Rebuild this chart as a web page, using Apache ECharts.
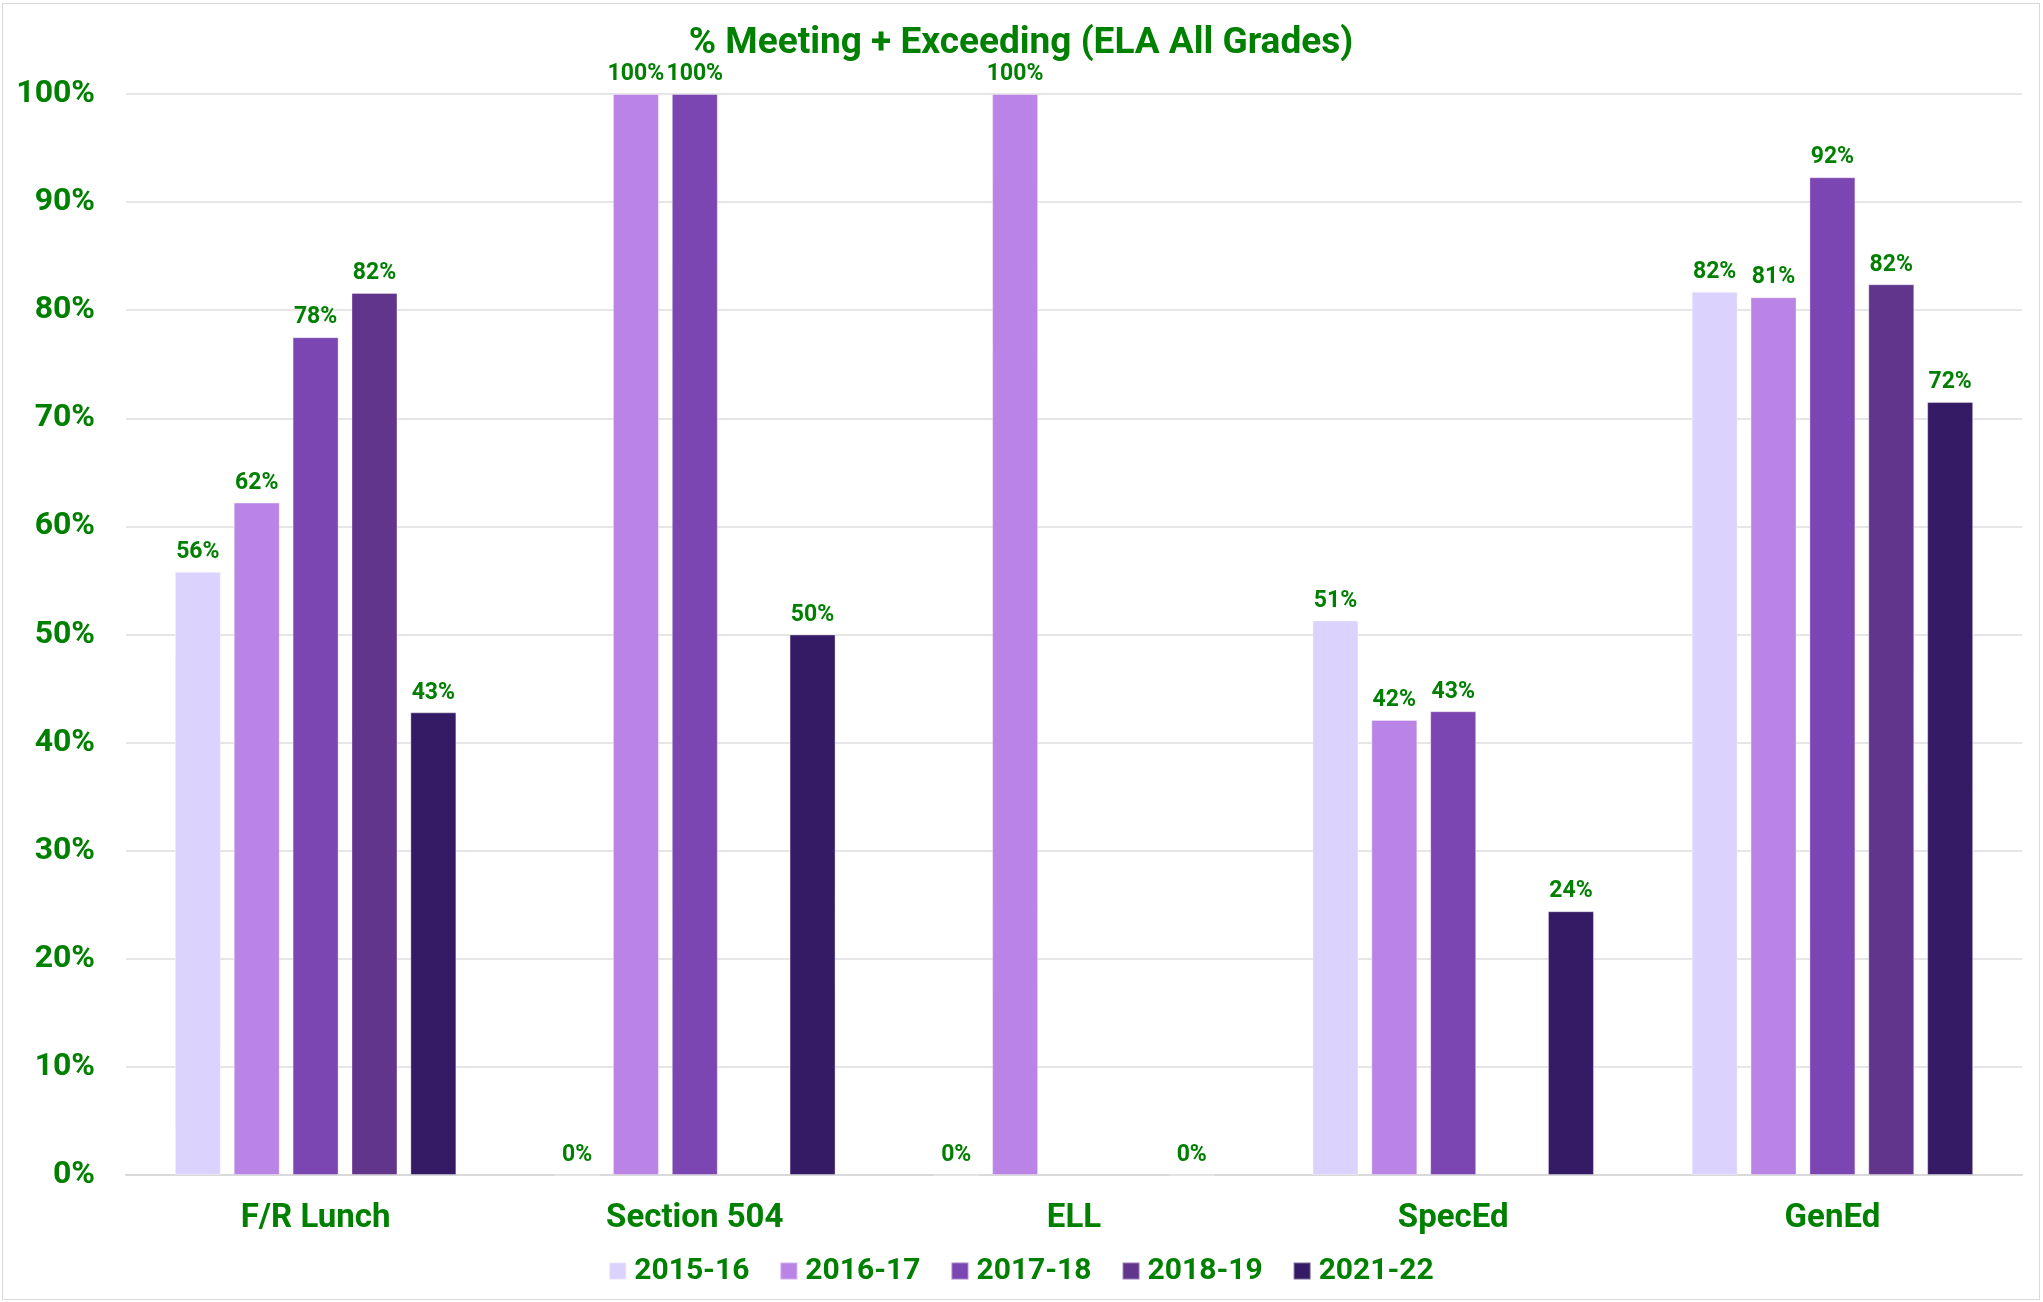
<!DOCTYPE html>
<html>
<head>
<meta charset="utf-8">
<script src="https://cdn.jsdelivr.net/npm/echarts@6/dist/echarts.min.js"></script>
<style>
  html, body { margin: 0; padding: 0; background: #fff; }
  #chart { position: absolute; left: 2px; top: 3px; width: 2038px; height: 1297px; box-sizing: border-box; border: 1px solid #d9d9d9; }
</style>
</head>
<body>
<div id="chart"></div>
<script>
const categories = ['F/R Lunch', 'Section 504', 'ELL', 'SpecEd', 'GenEd']
const years = ['2015-16', '2016-17', '2017-18', '2018-19', '2021-22']
const colors = ['#dbd3fd', '#b984e6', '#7b46b1', '#61358b', '#351b66']

// percent meeting + exceeding, null = no data
const y2015 = [55.8, 0, 0, 51.3, 81.7]
const y2016 = [62.2, 100, 100, 42.1, 81.2]
const y2017 = [77.5, 100, null, 42.9, 92.3]
const y2018 = [81.6, null, null, null, 82.4]
const y2021 = [42.8, 50, 0, 24.4, 71.5]
const seriesData = [y2015, y2016, y2017, y2018, y2021]

const GREEN = '#008000'
const FONT = 'Roboto'

const chart = echarts.init(document.getElementById('chart'))

chart.setOption({
  animation: false,
  title: {
    text: '% Meeting + Exceeding (ELA All Grades)',
    left: 'center',
    top: 16,
    textStyle: { color: GREEN, fontSize: 37, fontWeight: 'bold', fontFamily: FONT },
  },
  legend: {
    bottom: 8,
    left: 'center',
    itemWidth: 17,
    itemHeight: 17,
    itemGap: 30,
    icon: 'rect',
    textStyle: { color: GREEN, fontSize: 30, fontWeight: 'bold', fontFamily: FONT, padding: [0, 0, 0, 3] },
    data: years,
  },
  grid: { left: 123, right: 17, top: 90, bottom: 124 },
  xAxis: {
    type: 'category',
    data: categories,
    axisTick: { show: false },
    axisLine: { lineStyle: { color: '#d9d9d9', width: 2 } },
    axisLabel: { color: GREEN, fontSize: 33, fontWeight: 'bold', fontFamily: FONT, margin: 27 },
  },
  yAxis: {
    type: 'value',
    min: 0,
    max: 100,
    interval: 10,
    axisLine: { show: false },
    axisTick: { show: false },
    splitLine: { lineStyle: { color: '#dedede', width: 1.5 } },
    axisLabel: { color: GREEN, fontSize: 32, fontWeight: 'bold', fontFamily: FONT, margin: 31, formatter: '{value}%' },
  },
  series: years.map((y, i) => ({
    name: y,
    type: 'bar',
    data: seriesData[i],
    barWidth: 46,
    barGap: '28%',
    itemStyle: { color: colors[i], borderColor: 'rgba(255,255,255,0.35)', borderWidth: 1 },
    label: {
      show: true,
      position: 'top',
      distance: 8,
      color: GREEN,
      fontSize: 23,
      fontWeight: 'bold',
      fontFamily: FONT,
      formatter: (p) => Math.round(p.value) + '%',
    },
  })),
})
</script>
</body>
</html>
